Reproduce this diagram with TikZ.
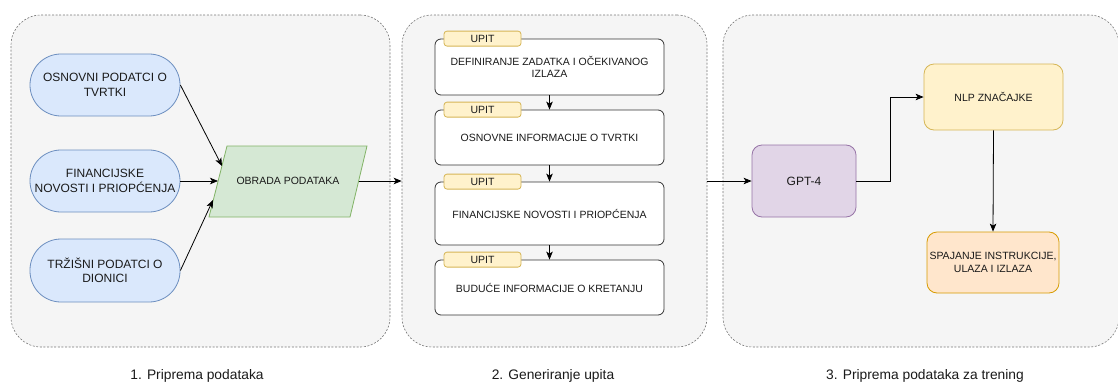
\documentclass[tikz,border=0pt]{standalone}
\usepackage{fontspec}
\setmainfont{Liberation Sans}
\usetikzlibrary{arrows.meta,calc}

\definecolor{panelfill}{HTML}{F5F5F5}
\definecolor{panelline}{HTML}{777777}
\definecolor{bluefill}{HTML}{DAE8FC}
\definecolor{blueline}{HTML}{6C8EBF}
\definecolor{greenfill}{HTML}{D5E8D4}
\definecolor{greenline}{HTML}{82B366}
\definecolor{yellowfill}{HTML}{FFF2CC}
\definecolor{yellowline}{HTML}{D6B656}
\definecolor{purplefill}{HTML}{E1D5E7}
\definecolor{purpleline}{HTML}{9673A6}
\definecolor{orangefill}{HTML}{FFE6CC}
\definecolor{orangeline}{HTML}{D79B00}
\definecolor{textdark}{HTML}{1A1A1A}

\tikzset{
  panel/.style={draw=panelline, fill=panelfill, line width=0.6pt,
    dash pattern=on 2pt off 1.6pt, rounded corners=30pt, inner sep=0pt},
  source/.style={draw=blueline, fill=bluefill, line width=0.8pt,
    rounded corners=30.9pt, minimum width=150pt, inner sep=0pt, align=center,
    font=\fontsize{12}{14.5}\selectfont, text=textdark},
  promptbox/.style={draw=black!80, fill=white, line width=0.8pt,
    rounded corners=6pt, minimum width=229pt, inner sep=0pt, align=center,
    font=\fontsize{10.5}{12.5}\selectfont, text=textdark},
  tag/.style={draw=yellowline, fill=yellowfill, line width=0.8pt,
    rounded corners=3pt, minimum width=77pt, minimum height=15pt, inner sep=0pt,
    font=\fontsize{10.5}{12.5}\selectfont, text=textdark},
  stage/.style={line width=0.8pt, rounded corners=10pt, inner sep=0pt,
    align=center, text=textdark},
  caption/.style={font=\fontsize{13.8}{16}\selectfont, text=textdark},
  conn/.style={draw=black, line width=0.8pt,
    -{Stealth[length=8pt, width=6.5pt, inset=2pt]}},
}

\begin{document}
\begin{tikzpicture}[x=1pt, y=-1pt]
\useasboundingbox (0,0) rectangle (1118,383);

% three stage panels
\node[panel, minimum width=379pt, minimum height=332pt] (c1) at (200.5,181) {};
\node[panel, minimum width=305pt, minimum height=332pt] (c2) at (554.5,181) {};
\node[panel, minimum width=396pt, minimum height=332pt] (c3) at (921,181) {};

% stage 1: data sources
\node[source, minimum height=62pt] (e1) at (105,85) {OSNOVNI PODATCI O\\TVRTKI};
\node[source, minimum height=62pt] (e2) at (105,181) {FINANCIJSKE\\NOVOSTI I PRIOPĆENJA};
\node[source, minimum height=63pt] (e3) at (105,270.5) {TRŽIŠNI PODATCI O\\DIONICI};

% processing parallelogram
\coordinate (p1) at (227,146);
\coordinate (p2) at (367,146);
\coordinate (p3) at (350,217);
\coordinate (p4) at (209,217);
\draw[draw=greenline, fill=greenfill, line width=0.8pt] (p1) -- (p2) -- (p3) -- (p4) -- cycle;
\node[font=\fontsize{10.5}{12.5}\selectfont, text=textdark] (obrada) at (288,181) {OBRADA PODATAKA};
\coordinate (in1) at (222,166);
\coordinate (in2) at (218,181);
\coordinate (in3) at (213,200);
\coordinate (out) at (358.5,181);

\draw[conn] (e1.east) -- (in1);
\draw[conn] (e2.east) -- (in2);
\draw[conn] (e3.east) -- (in3);
\draw[conn] (out) -- (c2.west);

% stage 2: prompt sections
\node[promptbox, minimum height=56pt] (b1) at (549.5,67) {DEFINIRANJE ZADATKA I OČEKIVANOG\\IZLAZA};
\node[promptbox, minimum height=55pt] (b2) at (549.5,137.5) {OSNOVNE INFORMACIJE O TVRTKI};
\node[promptbox, minimum height=63pt] (b3) at (549.5,213.5) {FINANCIJSKE NOVOSTI I PRIOPĆENJA};
\node[promptbox, minimum height=55pt] (b4) at (549.5,287.5) {BUDUĆE INFORMACIJE O KRETANJU};

\coordinate (tagx) at (482.5,0);
\node[tag] (t1) at (tagx |- b1.north) {UPIT};
\node[tag] (t2) at (tagx |- b2.north) {UPIT};
\node[tag] (t3) at (tagx |- b3.north) {UPIT};
\node[tag] (t4) at (tagx |- b4.north) {UPIT};

\draw[conn] (b1.south) -- (b2.north);
\draw[conn] (b2.south) -- (b3.north);
\draw[conn] (b3.south) -- (b4.north);

% stage 3: training data preparation
\node[stage, draw=purpleline, fill=purplefill, minimum width=104pt, minimum height=72pt,
  font=\fontsize{12}{14.5}\selectfont] (gpt) at (804,181) {GPT-4};
\node[stage, draw=yellowline, fill=yellowfill, minimum width=139pt, minimum height=66pt,
  font=\fontsize{10.5}{12.5}\selectfont] (nlp) at (993.5,97) {NLP ZNAČAJKE};
\node[stage, draw=orangeline, fill=orangefill, minimum width=132pt, minimum height=61pt,
  font=\fontsize{10.5}{12.5}\selectfont] (spoj) at (993,262.5) {SPAJANJE INSTRUKCIJE,\\ULAZA I IZLAZA};

\draw[conn] (c2.east) -- (gpt.west);
\draw[conn] (gpt.east) -- ++(34,0) |- (nlp.west);
\draw[conn] (nlp.south) -- (spoj.north);

% captions
\node[caption] (l1) at (197,376) {1. Priprema podataka};
\node[caption] (l2) at (553,376) {2. Generiranje upita};
\node[caption] (l3) at (925,376) {3. Priprema podataka za trening};
\end{tikzpicture}
\end{document}
